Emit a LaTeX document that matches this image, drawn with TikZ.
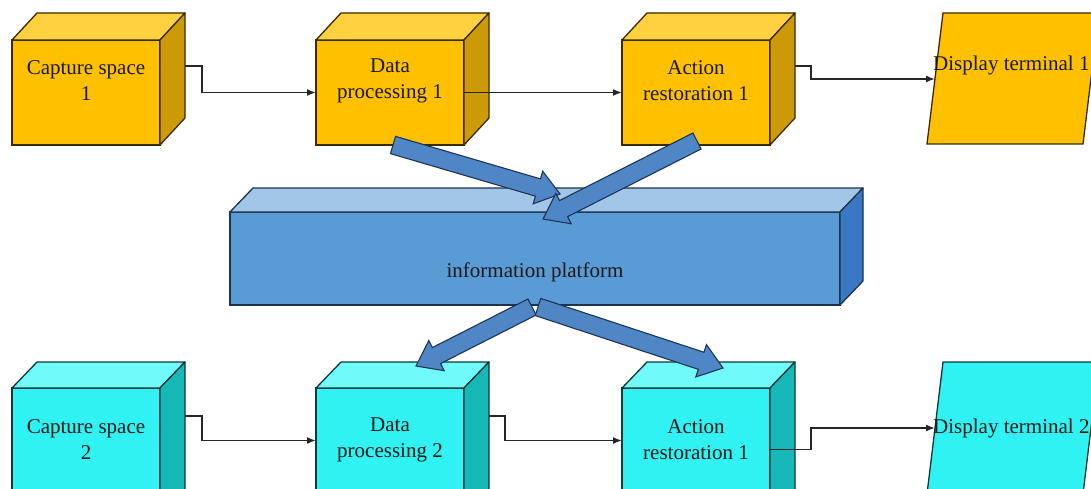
\documentclass[tikz,border=0pt]{standalone}
\usepackage{fontspec}
\setmainfont{Liberation Serif}
\usetikzlibrary{calc,arrows.meta}
\definecolor{orF}{HTML}{FFC000}
\definecolor{orT}{HTML}{FFD040}
\definecolor{orS}{HTML}{CC9A06}
\definecolor{orD}{HTML}{3A2A00}
\definecolor{cyF}{HTML}{30F2F2}
\definecolor{cyT}{HTML}{70FAFA}
\definecolor{cyS}{HTML}{16B8B8}
\definecolor{cyD}{HTML}{103838}
\definecolor{plF}{HTML}{5B9BD5}
\definecolor{plT}{HTML}{A2C6E8}
\definecolor{plS}{HTML}{3A78C4}
\definecolor{plD}{HTML}{1C3450}
\definecolor{arF}{HTML}{4F86C6}
\definecolor{arD}{HTML}{1E3556}
\tikzset{
  face/.style={rectangle, draw=#1, line width=1.3pt, inner sep=0pt, outer sep=0pt},
  obox/.style={face=orD, fill=orF, minimum width=148pt, minimum height=105pt},
  cbox/.style={face=cyD, fill=cyF, minimum width=148pt, minimum height=129pt},
  lbl/.style={align=center, font=\fontsize{21}{26}\selectfont, text=black!90, inner sep=0pt},
  conn/.style={draw=black!85, line width=1.7pt, -{Latex[length=9pt,width=7pt]}},
  barrow/.style={fill=arF, draw=arD, line width=1.1pt, line join=miter},
}
\newcommand\cubefaces[6]{% name, dx, dy, top colour, side colour, line colour
  \filldraw[fill=#4, draw=#6, line width=1.3pt, line join=round]
    (#1.north west) -- ++(#2,-#3) -- ($(#1.north east)+(#2,-#3)$) -- (#1.north east) -- cycle;
  \filldraw[fill=#5, draw=#6, line width=1.3pt, line join=round]
    (#1.north east) -- ++(#2,-#3) -- ($(#1.south east)+(#2,-#3)$) -- (#1.south east) -- cycle;
}
\newcommand\bigarrow[2]{% tail, tip
  \coordinate (ba-s) at (#1);
  \coordinate (ba-e) at (#2);
  \coordinate (ba-h) at ($(ba-e)!23pt!(ba-s)$);
  \filldraw[barrow]
    ($(ba-s)!9pt!90:(ba-e)$) -- ($(ba-h)!9pt!90:(ba-e)$) -- ($(ba-h)!17pt!90:(ba-e)$) --
    (ba-e) -- ($(ba-h)!17pt!-90:(ba-e)$) -- ($(ba-h)!9pt!-90:(ba-e)$) --
    ($(ba-s)!9pt!-90:(ba-e)$) -- cycle;
}
\begin{document}
\begin{tikzpicture}[x=1pt, y=-1pt]
\useasboundingbox (0,0) rectangle (1091,489);
\clip (0,0) rectangle (1091,489);
\fill[white] (0,0) rectangle (1091,489);

% ---------- top row ----------
\node[obox] (cap1) at (86,92.5) {};
\node[obox] (dp1)  at (390,92.5) {};
\node[obox] (ar1)  at (696,92.5) {};
\cubefaces{cap1}{25}{27}{orT}{orS}{orD}
\cubefaces{dp1}{25}{27}{orT}{orS}{orD}
\cubefaces{ar1}{25}{27}{orT}{orS}{orD}
\filldraw[fill=orF, draw=orD, line width=1.3pt] (927,144) -- (943,13) -- (1099,13) -- (1083,144) -- cycle;
\coordinate (d1in) at (935,79);
\node[lbl] (cap1t) at (86,81) {Capture space\\1};
\node[lbl] (dp1t)  at (390,81) {Data\\processing 1};
\node[lbl] (ar1t)  at (696,81) {Action\\restoration 1};
\node[lbl, anchor=west] (d1t) at (933,65) {Display terminal 1};

% ---------- platform ----------
\node[face=plD, fill=plF, minimum width=610pt, minimum height=93pt] (plat) at (535,258.5) {};
\cubefaces{plat}{23}{24}{plT}{plS}{plD}
\node[lbl] (platt) at (535,272) {information platform};

% ---------- bottom row ----------
\node[cbox] (cap2) at (86,452.5) {};
\node[cbox] (dp2)  at (390,452.5) {};
\node[cbox] (ar2)  at (696,452.5) {};
\cubefaces{cap2}{25}{26}{cyT}{cyS}{cyD}
\cubefaces{dp2}{25}{26}{cyT}{cyS}{cyD}
\cubefaces{ar2}{25}{26}{cyT}{cyS}{cyD}
\filldraw[fill=cyF, draw=cyD, line width=1.3pt] (927,494) -- (943,362) -- (1099,362) -- (1083,494) -- cycle;
\coordinate (d2in) at (935,428);
\node[lbl] (cap2t) at (86,440) {Capture space\\2};
\node[lbl] (dp2t)  at (390,440) {Data\\processing 2};
\node[lbl] (ar2t)  at (696,440) {Action\\restoration 1};
\node[lbl, anchor=west] (d2t) at (933,428) {Display terminal 2};

% ---------- thin connectors ----------
\draw[conn] ($(cap1.north east)+(25,26)$) -- ++(17,0) |- (dp1.west);
\draw[conn] (dp1.east) -- (ar1.west);
\draw[conn] ($(ar1.north east)+(25,26)$) -- ++(16,0) |- (d1in);
\draw[conn] ($(cap2.north east)+(25,28)$) -- ++(17,0) |- ($(dp2.west)+(0,-12)$);
\draw[conn] ($(dp2.north east)+(25,28)$) -- ++(16,0) |- ($(ar2.west)+(0,-12)$);
\draw[conn] ($(ar2.east)+(0,-3)$) -- ++(41,0) |- (d2in);

% ---------- big arrows ----------
\bigarrow{$(dp1.south)+(3,0)$}{$(plat.north)+(25,-18)$}
\bigarrow{$(ar1.south)+(1,-4)$}{$(plat.north)+(8,7)$}
\bigarrow{$(plat.south)+(-3,2)$}{$(dp2.north)+(26,-22)$}
\bigarrow{$(plat.south)+(3,2)$}{$(ar2.north)+(27,-20)$}
\end{tikzpicture}
\end{document}
